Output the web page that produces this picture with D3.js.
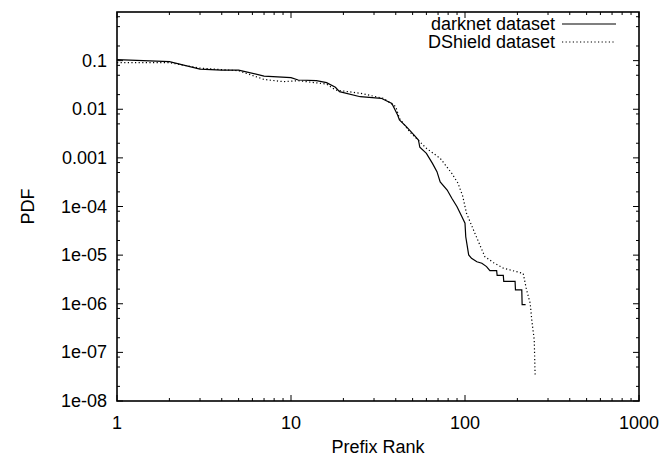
<!DOCTYPE html>
<html>
<head>
<meta charset="utf-8">
<script src="https://cdn.jsdelivr.net/npm/d3@7"></script>
<style>
  body { margin: 0; background: #fff; }
  svg text { font-family: "Liberation Sans", Arial, sans-serif; font-size: 18px; fill: #000; }
</style>
</head>
<body>
<svg id="chart" width="662" height="457"></svg>
<script>
// darknet dataset: [prefix rank, pdf]
var darknet = [
  [1, 0.105], [2, 0.095], [3, 0.067], [4, 0.064], [5, 0.064], [7, 0.048],
  [10, 0.0446], [11, 0.040], [14, 0.0387], [16, 0.0352], [18, 0.0283], [19, 0.023],
  [25, 0.0181], [33, 0.0168], [38, 0.0132], [41, 0.0076], [42, 0.0060], [46, 0.0044],
  [51, 0.00295], [54, 0.00233], [55, 0.00165], [60, 0.00124], [65, 0.00077], [69, 0.00052],
  [72, 0.00032], [79, 0.000218], [84, 0.000148], [90, 0.0000991], [96, 0.0000617],
  [100, 0.0000452], [101, 0.0000239], [105, 0.0000101], [109, 0.0000086], [117, 0.0000073],
  [125, 0.0000068], [133, 0.0000058], [139, 0.0000048], [152, 0.0000048], [153, 0.00000384],
  [166, 0.00000384], [167, 0.00000288], [194, 0.00000288], [195, 0.00000192], [212, 0.00000192],
  [213, 0.00000096], [223, 0.00000096]
];
// DShield dataset: [prefix rank, pdf]
var dshield = [
  [1, 0.091], [2, 0.091], [3, 0.070], [5, 0.062], [7, 0.041], [9, 0.037],
  [11, 0.0387], [16, 0.033], [18, 0.0249], [25, 0.0213], [34, 0.0168], [40, 0.0113],
  [42, 0.0065], [48, 0.00345], [55, 0.00215], [60, 0.00157], [72, 0.00098], [84, 0.00048],
  [91, 0.000304], [97, 0.000164], [102, 0.0000725], [114, 0.0000281], [130, 0.0000093],
  [146, 0.0000070], [166, 0.0000054], [216, 0.0000042], [226, 0.0000019], [237, 0.00000102],
  [242, 0.00000046], [250, 0.00000018], [253, 0.000000032]
];
var xTicks = [1, 10, 100, 1000];
var yTicks = [1e-8, 1e-7, 1e-6, 1e-5, 1e-4, 1e-3, 1e-2, 1e-1];
var yTickLabels = ["1e-08", "1e-07", "1e-06", "1e-05", "1e-04", "0.001", "0.01", "0.1"];
var seriesNames = ["darknet dataset", "DShield dataset"];

// plot box (window.top is reserved, so use own names)
var pLeft = 117, pRight = 639, pTop = 12, pBottom = 401;
var svg = d3.select("#chart");

var x = d3.scaleLog().domain([1, 1000]).range([pLeft, pRight]);
var y = d3.scaleLog().domain([1e-8, 1]).range([pBottom, pTop]);

// minor ticks
var xMinor = [];
[1, 10, 100].forEach(function(d) { for (var k = 2; k <= 9; k++) xMinor.push(d * k); });
var yMinor = [];
yTicks.forEach(function(d) { [2, 5, 8].forEach(function(k) { yMinor.push(d * k); }); });

var ticks = svg.append("g").attr("stroke", "#000").attr("stroke-width", 1);
function vt(v, len) {
  ticks.append("line").attr("x1", x(v)).attr("x2", x(v)).attr("y1", pBottom).attr("y2", pBottom - len);
  ticks.append("line").attr("x1", x(v)).attr("x2", x(v)).attr("y1", pTop).attr("y2", pTop + len);
}
function ht(v, len) {
  ticks.append("line").attr("y1", y(v)).attr("y2", y(v)).attr("x1", pLeft).attr("x2", pLeft + len);
  ticks.append("line").attr("y1", y(v)).attr("y2", y(v)).attr("x1", pRight).attr("x2", pRight - len);
}
xTicks.forEach(function(d) { vt(d, 6); });
xMinor.forEach(function(d) { vt(d, 3); });
yTicks.forEach(function(d) { ht(d, 6); });
yMinor.forEach(function(d) { ht(d, 3); });

// tick labels
svg.selectAll(".xl").data(xTicks).enter().append("text")
  .attr("x", function(d) { return x(d); }).attr("y", 429)
  .attr("text-anchor", "middle").text(function(d) { return d; });
svg.selectAll(".yl").data(yTicks).enter().append("text")
  .attr("x", 107).attr("y", function(d) { return y(d) + 6; })
  .attr("text-anchor", "end").text(function(d, i) { return yTickLabels[i]; });

// axis titles
svg.append("text").attr("x", (pLeft + pRight) / 2).attr("y", 453)
  .attr("text-anchor", "middle").text("Prefix Rank");
svg.append("text").attr("transform", "translate(34," + ((pTop + pBottom) / 2) + ") rotate(-90)")
  .attr("text-anchor", "middle").text("PDF");

// lines
var line = d3.line().x(function(d) { return x(d[0]); }).y(function(d) { return y(d[1]); });
svg.append("path").datum(darknet).attr("d", line)
  .attr("fill", "none").attr("stroke", "#000").attr("stroke-width", 1.2);
svg.append("path").datum(dshield).attr("d", line)
  .attr("fill", "none").attr("stroke", "#000").attr("stroke-width", 1.2)
  .attr("stroke-dasharray", "1.2,2.4");

// legend
var dashes = [null, "1.2,2.4"];
seriesNames.forEach(function(name, i) {
  var ly = 24 + i * 18;
  svg.append("text").attr("x", 555).attr("y", ly + 6).attr("text-anchor", "end").text(name);
  svg.append("line").attr("x1", 562).attr("x2", 616).attr("y1", ly).attr("y2", ly)
    .attr("stroke", "#000").attr("stroke-width", 1.2).attr("stroke-dasharray", dashes[i]);
});

// frame
svg.append("rect").attr("x", pLeft).attr("y", pTop)
  .attr("width", pRight - pLeft).attr("height", pBottom - pTop)
  .attr("fill", "none").attr("stroke", "#000").attr("stroke-width", 1.6);
</script>
</body>
</html>
